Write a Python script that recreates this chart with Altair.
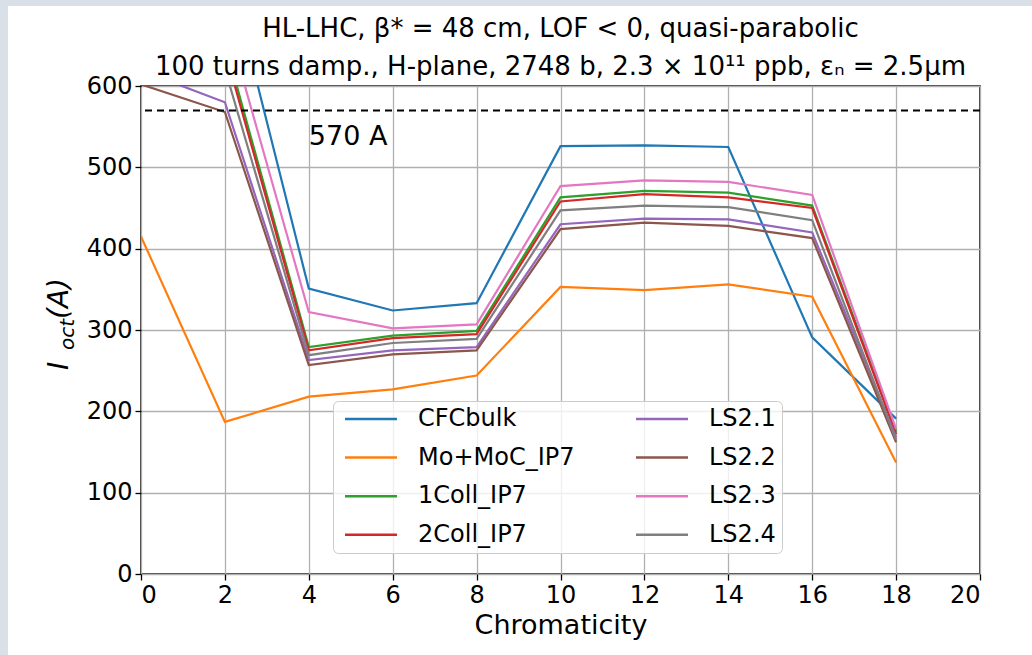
import altair as alt
import pandas as pd

# ---------------- data ----------------
chromaticity = [0, 2, 4, 6, 8, 10, 12, 14, 16, 18]
series_names = ["CFCbulk", "Mo+MoC_IP7", "1Coll_IP7", "2Coll_IP7", "LS2.1", "LS2.2", "LS2.3", "LS2.4"]
cfc_bulk = [820, 761, 351, 324, 333, 526, 527, 525, 291, 191]
mo_moc_ip7 = [415, 187, 218, 227, 244, 353, 349, 356, 341, 137]
coll1_ip7 = [700, 653, 279, 293, 299, 463, 471, 469, 453, 175]
coll2_ip7 = [690, 644, 275, 290, 295, 458, 467, 463, 450, 172]
ls21 = [619, 580, 263, 275, 279, 430, 437, 436, 420, 168]
ls22 = [602, 568, 257, 270, 275, 424, 432, 428, 413, 162]
ls23 = [720, 687, 322, 302, 307, 477, 484, 482, 466, 178]
ls24 = [660, 621, 269, 284, 289, 447, 453, 451, 435, 165]
series_values = [cfc_bulk, mo_moc_ip7, coll1_ip7, coll2_ip7, ls21, ls22, ls23, ls24]
series_colors = ["#1f77b4", "#ff7f0e", "#2ca02c", "#d62728", "#9467bd", "#8c564b", "#e377c2", "#7f7f7f"]

threshold = [570]
threshold_label = ["570 A"]
threshold_label_x = [4.0]
threshold_label_y = [537]

x_ticks = [0, 2, 4, 6, 8, 10, 12, 14, 16, 18, 20]
y_ticks = [0, 100, 200, 300, 400, 500, 600]

title_line1 = "HL-LHC, β* = 48 cm, LOF < 0, quasi-parabolic"
title_line2 = "100 turns damp., H-plane, 2748 b, 2.3 × 10¹¹ ppb, εₙ = 2.5μm"

# ---------------- tables ----------------
rows = []
for name, vals in zip(series_names, series_values):
    for i, (c, v) in enumerate(zip(chromaticity, vals)):
        rows.append({"series": name, "chroma": c, "Ioct": v, "idx": i})
df = pd.DataFrame(rows)

FONT = "DejaVu Sans"
W, H = 839, 488
PAD_L, PAD_T = 141, 86

xscale = alt.Scale(domain=[0, 20], nice=False, zero=False)
yscale = alt.Scale(domain=[0, 600], nice=False)

lines = alt.Chart(df).mark_line(clip=True, strokeWidth=2.2).encode(
    x=alt.X("chroma:Q", scale=xscale,
            axis=alt.Axis(values=x_ticks, title="Chromaticity", format="d")),
    y=alt.Y("Ioct:Q", scale=yscale,
            axis=alt.Axis(values=y_ticks, title=None, format="d")),
    color=alt.Color("series:N",
                    scale=alt.Scale(domain=series_names, range=series_colors),
                    legend=alt.Legend(
                        orient="none", legendX=192, legendY=315, columns=2,
                        title=None, symbolType="M-2.6,0H2.6", symbolSize=400,
                        symbolStrokeWidth=2.5, symbolOffset=20, labelOffset=35,
                        labelFont=FONT, labelFontSize=24, labelColor="black",
                        padding=6, rowPadding=14.6, columnPadding=55,
                        fillColor="rgba(255,255,255,0.8)", strokeColor="#cccccc",
                        cornerRadius=5, labelLimit=400)),
    detail="series:N",
    order="idx:Q",
)

rule = alt.Chart(pd.DataFrame({"v": threshold})).mark_rule(
    color="black", strokeDash=[7, 5], strokeWidth=2
).encode(y=alt.Y("v:Q", scale=yscale))

label = alt.Chart(pd.DataFrame({"t": threshold_label, "x": threshold_label_x, "y": threshold_label_y})).mark_text(
    align="left", baseline="middle", font=FONT, fontSize=27, color="black"
).encode(x=alt.X("x:Q", scale=xscale), y=alt.Y("y:Q", scale=yscale), text="t:N")

one = pd.DataFrame({"k": [0]})


def ptext(txt, x, y, size, angle=0, align="left", style="normal"):
    kw = dict(text=txt, align=align, baseline="alphabetic", font=FONT,
              fontSize=size, fontStyle=style, color="black")
    if angle:
        kw["angle"] = angle
    return alt.Chart(one).mark_text(**kw).encode(x=alt.value(x), y=alt.value(y))


ytitle_I = ptext("I", -73, 284, 28, angle=270, style="italic")
ytitle_oct = ptext("oct", -67, 264, 20, angle=270, style="italic")
ytitle_A = ptext("(A)", -73, 233, 28, angle=270, style="italic")

title1 = ptext(title_line1, W / 2, -49, 26, align="center")
title2 = ptext(title_line2, W / 2, -11, 26, align="center")

strip_left = alt.Chart(one).mark_rect(color="#d9e0e8", clip=False).encode(
    x=alt.value(-PAD_L), x2=alt.value(-PAD_L + 8), y=alt.value(-PAD_T), y2=alt.value(655 - PAD_T))
strip_top = alt.Chart(one).mark_rect(color="#d9e0e8", clip=False).encode(
    x=alt.value(-PAD_L), x2=alt.value(1032 - PAD_L), y=alt.value(-PAD_T), y2=alt.value(-PAD_T + 6))

chart = alt.layer(strip_left, strip_top, lines, rule, label,
                  ytitle_I, ytitle_oct, ytitle_A, title1, title2).properties(
    width=W, height=H,
    autosize=alt.AutoSizeParams(type="none"),
    padding={"left": PAD_L, "top": PAD_T, "right": 1032 - PAD_L - W, "bottom": 655 - PAD_T - H},
    background="white",
).configure_view(
    stroke="black", strokeWidth=1.5
).configure_axis(
    grid=True, gridColor="#b0b0b0", gridWidth=1.3, domain=False,
    tickColor="black", tickSize=6, tickWidth=1.3,
    labelFont=FONT, labelFontSize=24, labelColor="black", labelPadding=3,
    titleFont=FONT, titleFontSize=27, titleFontWeight="normal", titleColor="black", titlePadding=5,
)

chart.save("out.html", embed_options={"renderer": "svg", "actions": False})
